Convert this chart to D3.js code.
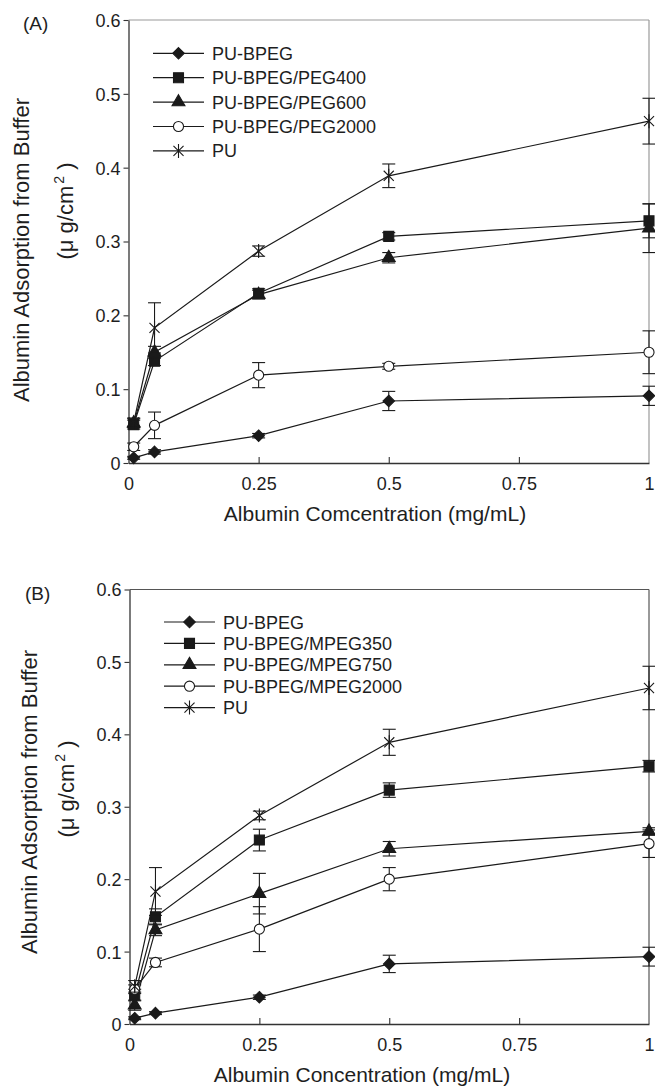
<!DOCTYPE html>
<html>
<head>
<meta charset="utf-8">
<script src="https://cdn.jsdelivr.net/npm/d3@7"></script>
<style>
  body { margin: 0; background: #fff; }
  text { font-family: "Liberation Sans", Arial, sans-serif; fill: #1e1e1e; }
</style>
</head>
<body>
<script>
// concentrations (mg/mL) and ticks
const conc = [0.01, 0.05, 0.25, 0.5, 1];
const xTicks = [0, 0.25, 0.5, 0.75, 1];
const yTicks = [0, 0.1, 0.2, 0.3, 0.4, 0.5, 0.6];

// panel A
const namesA = ["PU-BPEG", "PU-BPEG/PEG400", "PU-BPEG/PEG600", "PU-BPEG/PEG2000", "PU"];
const bpegA = [0.007, 0.015, 0.037, 0.084, 0.091];
const bpegErrA = [0.002, 0.003, 0.003, 0.013, 0.013];
const peg400A = [0.052, 0.138, 0.230, 0.307, 0.328];
const peg400ErrA = [0.006, 0.006, 0.006, 0.005, 0.023];
const peg600A = [0.054, 0.150, 0.228, 0.278, 0.318];
const peg600ErrA = [0.006, 0.008, 0.006, 0.007, 0.033];
const peg2000A = [0.022, 0.051, 0.119, 0.131, 0.150];
const peg2000ErrA = [0.005, 0.018, 0.017, 0.004, 0.029];
const puA = [0.055, 0.183, 0.287, 0.389, 0.463];
const puErrA = [0.006, 0.034, 0.007, 0.016, 0.031];

// panel B
const namesB = ["PU-BPEG", "PU-BPEG/MPEG350", "PU-BPEG/MPEG750", "PU-BPEG/MPEG2000", "PU"];
const bpegB = [0.008, 0.015, 0.037, 0.083, 0.093];
const bpegErrB = [0.002, 0.002, 0.003, 0.012, 0.013];
const mpeg350B = [0.040, 0.148, 0.254, 0.323, 0.356];
const mpeg350ErrB = [0.008, 0.011, 0.015, 0.010, 0.008];
const mpeg750B = [0.026, 0.130, 0.180, 0.242, 0.266];
const mpeg750ErrB = [0.007, 0.008, 0.028, 0.010, 0.005];
const mpeg2000B = [0.048, 0.085, 0.131, 0.200, 0.249];
const mpeg2000ErrB = [0.006, 0.006, 0.031, 0.016, 0.019];
const puB = [0.052, 0.183, 0.288, 0.389, 0.464];
const puErrB = [0.008, 0.033, 0.006, 0.018, 0.030];

const ink = "#1a1a1a";

// asterisk = vertical bar + an X
const asterisk = {
  draw(ctx, size) {
    const r = Math.sqrt(size) / 2;
    const d = r * 0.72;
    ctx.moveTo(0, -r); ctx.lineTo(0, r);
    ctx.moveTo(-d, -d); ctx.lineTo(d, d);
    ctx.moveTo(-d, d); ctx.lineTo(d, -d);
  }
};
const markers = [
  { type: d3.symbolDiamond2 || d3.symbolDiamond, size: 85, fill: ink },
  { type: d3.symbolSquare, size: 100, fill: ink },
  { type: d3.symbolTriangle, size: 72, fill: ink },
  { type: d3.symbolCircle, size: 80, fill: "#fff" },
  { type: asterisk, size: 196, fill: "none" }
];

const svg = d3.select("body").append("svg")
  .attr("width", 655).attr("height", 1087);

function drawPanel(p) {
  const x = d3.scaleLinear().domain([0, 1]).range([p.left, p.right]);
  const y = d3.scaleLinear().domain([0, 0.6]).range([p.bottom, p.top]);
  const g = svg.append("g");

  // frame: top/right lighter than the axes
  g.append("line").attr("x1", p.left).attr("x2", p.right).attr("y1", p.top).attr("y2", p.top)
    .attr("stroke", p.frame).attr("stroke-width", 1.2);
  g.append("line").attr("x1", p.right).attr("x2", p.right).attr("y1", p.top).attr("y2", p.bottom)
    .attr("stroke", p.frame).attr("stroke-width", 1.2);

  const xAxis = g.append("g").attr("transform", `translate(0,${p.bottom})`)
    .call(d3.axisBottom(x).tickValues(xTicks).tickFormat(d3.format("~g"))
      .tickSizeInner(-6).tickSizeOuter(0).tickPadding(14));
  const yAxis = g.append("g").attr("transform", `translate(${p.left},0)`)
    .call(d3.axisLeft(y).tickValues(yTicks).tickFormat(d3.format("~g"))
      .tickSizeInner(5).tickSizeOuter(0).tickPadding(3));
  [xAxis, yAxis].forEach(a => {
    a.select(".domain").attr("stroke", "#333").attr("stroke-width", 1.3);
    a.selectAll(".tick line").attr("stroke", "#333").attr("stroke-width", 1.1);
    a.selectAll(".tick text").attr("font-size", 18).attr("fill", "#1e1e1e")
      .attr("font-family", '"Liberation Sans", Arial, sans-serif');
  });
  xAxis.selectAll(".tick").filter(d => d === 0 || d === 1).select("line").remove();
  yAxis.selectAll(".tick text").attr("dy", "0.36em");

  const line = d3.line().x((d, i) => x(conc[i])).y(d => y(d));

  p.series.forEach((s, si) => {
    const m = markers[si];
    const sg = g.append("g");
    // error bars
    s.values.forEach((v, i) => {
      const e = s.errors[i];
      const cx = x(conc[i]);
      sg.append("line").attr("x1", cx).attr("x2", cx).attr("y1", y(v - e)).attr("y2", y(v + e))
        .attr("stroke", ink).attr("stroke-width", 1.1);
      [v - e, v + e].forEach(t => sg.append("line")
        .attr("x1", cx - 6.5).attr("x2", cx + 6.5).attr("y1", y(t)).attr("y2", y(t))
        .attr("stroke", ink).attr("stroke-width", 1.1));
    });
    sg.append("path").datum(s.values).attr("d", line)
      .attr("fill", "none").attr("stroke", ink).attr("stroke-width", 1.2);
    sg.selectAll("path.pt").data(s.values).join("path").attr("class", "pt")
      .attr("transform", (d, i) => `translate(${x(conc[i])},${y(d)})`)
      .attr("d", d3.symbol().type(m.type).size(m.size))
      .attr("fill", m.fill).attr("stroke", ink).attr("stroke-width", 1.1);
  });

  // legend
  const lg = g.append("g");
  p.series.forEach((s, si) => {
    const m = markers[si];
    const ry = p.leg.y + si * p.leg.step;
    lg.append("line").attr("x1", p.leg.x0).attr("x2", p.leg.x1).attr("y1", ry).attr("y2", ry)
      .attr("stroke", ink).attr("stroke-width", 1.2);
    lg.append("path").attr("transform", `translate(${(p.leg.x0 + p.leg.x1) / 2},${ry})`)
      .attr("d", d3.symbol().type(m.type).size(m.size))
      .attr("fill", m.fill).attr("stroke", ink).attr("stroke-width", 1.1);
    lg.append("text").attr("x", p.leg.tx).attr("y", ry + 6.5).attr("font-size", 18).text(s.name);
  });

  // titles
  g.append("text").attr("x", p.label.x).attr("y", p.label.y).attr("font-size", 19).text(p.label.t);
  g.append("text").attr("x", p.xTitle.x).attr("y", p.xTitle.y).attr("text-anchor", "middle")
    .attr("font-size", 21).text(p.xTitle.t);
  g.append("text").attr("transform", `translate(${p.yTitle.x1},${p.yTitle.c1}) rotate(-90)`)
    .attr("text-anchor", "middle").attr("font-size", 22).text("Albumin Adsorption from Buffer");
  const t2 = g.append("text").attr("transform", `translate(${p.yTitle.x2},${p.yTitle.c2}) rotate(-90)`)
    .attr("text-anchor", "middle").attr("font-size", 22);
  t2.append("tspan").text("(\u03bc g/cm");
  t2.append("tspan").attr("font-size", 14).attr("dy", -9).attr("dx", 2).text("2");
  t2.append("tspan").attr("dy", 9).text(" )");
}

drawPanel({
  left: 128.5, right: 649, top: 20, bottom: 463, frame: "#9a9a9a",
  series: [
    { name: namesA[0], values: bpegA, errors: bpegErrA },
    { name: namesA[1], values: peg400A, errors: peg400ErrA },
    { name: namesA[2], values: peg600A, errors: peg600ErrA },
    { name: namesA[3], values: peg2000A, errors: peg2000ErrA },
    { name: namesA[4], values: puA, errors: puErrA }
  ],
  leg: { y: 53.3, step: 24.4, x0: 153, x1: 204, tx: 212 },
  label: { x: 23, y: 30, t: "(A)" },
  xTitle: { x: 375, y: 521, t: "Albumin Comcentration (mg/mL)" },
  yTitle: { x1: 29, c1: 250, x2: 73, c2: 211 }
});

drawPanel({
  left: 129.5, right: 649, top: 589.5, bottom: 1024, frame: "#555",
  series: [
    { name: namesB[0], values: bpegB, errors: bpegErrB },
    { name: namesB[1], values: mpeg350B, errors: mpeg350ErrB },
    { name: namesB[2], values: mpeg750B, errors: mpeg750ErrB },
    { name: namesB[3], values: mpeg2000B, errors: mpeg2000ErrB },
    { name: namesB[4], values: puB, errors: puErrB }
  ],
  leg: { y: 622, step: 21.4, x0: 164, x1: 215, tx: 223 },
  label: { x: 25, y: 600, t: "(B)" },
  xTitle: { x: 362, y: 1082, t: "Albumin Concentration (mg/mL)" },
  yTitle: { x1: 37, c1: 802, x2: 74, c2: 789 }
});
</script>
</body>
</html>
